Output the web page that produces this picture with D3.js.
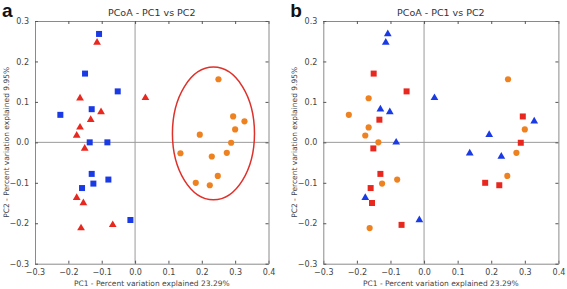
<!DOCTYPE html>
<html>
<head>
<meta charset="utf-8">
<script src="https://cdn.jsdelivr.net/npm/d3@7"></script>
<style>
body { margin:0; background:#fff; }
text { font-family: "DejaVu Sans", sans-serif; }
</style>
</head>
<body>
<script>
// PCoA coordinates of the 36 samples (same points in both panels)
var pc1 = [-0.108, -0.150, -0.052, -0.224, -0.130, -0.136, -0.083, -0.130, -0.125, -0.080, -0.159, -0.014,
           -0.114, -0.165,  0.031, -0.102, -0.133, -0.165, -0.175, -0.151, -0.175, -0.155, -0.162, -0.067,
            0.250,  0.294,  0.328,  0.300,  0.194,  0.288,  0.136,  0.230,  0.275,  0.248,  0.182,  0.224];
var pc2 = [ 0.268,  0.170,  0.126,  0.068,  0.082,  0.000,  0.000, -0.078, -0.102, -0.092, -0.113, -0.192,
            0.247,  0.109,  0.110,  0.075,  0.056,  0.037,  0.017, -0.015, -0.137, -0.150, -0.212, -0.204,
            0.156,  0.064,  0.052,  0.032,  0.019, -0.001, -0.027, -0.035, -0.026, -0.083, -0.100, -0.106];
// group per sample: 0 = blue, 1 = red, 2 = orange
var groupA = [0,0,0,0,0,0,0,0,0,0,0,0, 1,1,1,1,1,1,1,1,1,1,1,1, 2,2,2,2,2,2,2,2,2,2,2,2];
var groupB = [0,1,1,2,0,2,0,1,2,2,1,0, 0,2,0,0,1,2,2,1,0,1,2,1, 2,1,0,2,0,1,0,0,2,2,1,1];
// shapes of the groups in each panel
var shapesA = ["square", "triangle", "circle"];
var shapesB = ["triangle", "square", "circle"];
var colors = ["#1a3ae6", "#e8281e", "#ef8220"];

var xTicks = [-0.3, -0.2, -0.1, 0.0, 0.1, 0.2, 0.3, 0.4];
var yTicks = [-0.3, -0.2, -0.1, 0.0, 0.1, 0.2, 0.3];
var title = "PCoA - PC1 vs PC2";
var xLabel = "PC1 - Percent variation explained 23.29%";
var yLabel = "PC2 - Percent variation explained 9.95%";
var ellipseA = {cx:0.235, cy:0.022, rx:0.123, ry:0.164};

var totalWidth = 567, totalHeight = 289;

var svg = d3.select("body").append("svg")
    .attr("width", totalWidth)
    .attr("height", totalHeight);

function fmt(v) {
  var s = Math.abs(v).toFixed(1);
  return v < -1e-9 ? "\u2212" + s : s;
}

function panel(letter, left, right, groups, shapes, ellipse) {
  var top = 21, bottom = 263.7;
  var x = d3.scaleLinear().domain([-0.3, 0.4]).range([left, right]);
  var y = d3.scaleLinear().domain([-0.3, 0.3]).range([bottom, top]);
  var g = svg.append("g");

  // zero lines
  g.append("line").attr("x1", x(0)).attr("x2", x(0)).attr("y1", top).attr("y2", bottom)
    .attr("stroke", "#9a9a9a").attr("stroke-width", 1);
  g.append("line").attr("x1", left).attr("x2", right).attr("y1", y(0)).attr("y2", y(0))
    .attr("stroke", "#9a9a9a").attr("stroke-width", 1);

  // axes with inward ticks on all four sides
  var ax = [
    {a: d3.axisBottom(x).tickValues(xTicks).tickFormat(fmt), t: "translate(0," + bottom + ")"},
    {a: d3.axisTop(x).tickValues(xTicks).tickFormat(""), t: "translate(0," + top + ")"},
    {a: d3.axisLeft(y).tickValues(yTicks).tickFormat(fmt), t: "translate(" + left + ",0)"},
    {a: d3.axisRight(y).tickValues(yTicks).tickFormat(""), t: "translate(" + right + ",0)"}
  ];
  ax.forEach(function(o) {
    o.a.tickSizeInner(-3).tickSizeOuter(0).tickPadding(6);
    var ag = g.append("g").attr("transform", o.t).call(o.a);
    ag.select(".domain").attr("stroke", "#8a8a8a");
    ag.selectAll(".tick line").attr("stroke", "#555");
    ag.selectAll("text").attr("fill", "#444").style("font-size", "8px")
      .style("font-family", "DejaVu Sans, sans-serif");
  });

  // title and axis labels
  var cx = (left + right) / 2;
  g.append("text").attr("x", cx).attr("y", 16).attr("text-anchor", "middle")
    .attr("fill", "#333").style("font-size", "9.5px").text(title);
  g.append("text").attr("x", cx).attr("y", 286).attr("text-anchor", "middle")
    .attr("fill", "#444").style("font-size", "7.5px").text(xLabel);
  g.append("text").attr("transform", "translate(" + (left - 26) + "," + ((top + bottom) / 2) + ") rotate(-90)")
    .attr("text-anchor", "middle").attr("fill", "#444").style("font-size", "7.5px").text(yLabel);
  g.append("text").attr("x", left - 33).attr("y", 17)
    .style("font-family", "Liberation Sans, Arial, sans-serif").style("font-weight", "bold")
    .style("font-size", "19px").attr("fill", "#111").text(letter);

  if (ellipse) {
    g.append("ellipse")
      .attr("cx", x(ellipse.cx)).attr("cy", y(ellipse.cy))
      .attr("rx", x(ellipse.rx) - x(0)).attr("ry", y(0) - y(ellipse.ry))
      .attr("fill", "none").attr("stroke", "#e0302a").attr("stroke-width", 1.5);
  }

  var idx = d3.range(pc1.length);
  var sym = {
    square: d3.symbol().type(d3.symbolSquare).size(36),
    triangle: d3.symbol().type(d3.symbolTriangle).size(26),
    circle: d3.symbol().type(d3.symbolCircle).size(30)
  };
  g.selectAll("path.pt")
    .data(idx)
    .enter()
    .append("path")
    .attr("class", "pt")
    .attr("transform", d => "translate(" + x(pc1[d]) + "," + y(pc2[d]) + ")")
    .attr("d", d => sym[shapes[groups[d]]]())
    .attr("fill", d => colors[groups[d]]);
}

panel("a", 35, 268.5, groupA, shapesA, ellipseA);
panel("b", 323.3, 558.4, groupB, shapesB, null);
</script>
</body>
</html>
